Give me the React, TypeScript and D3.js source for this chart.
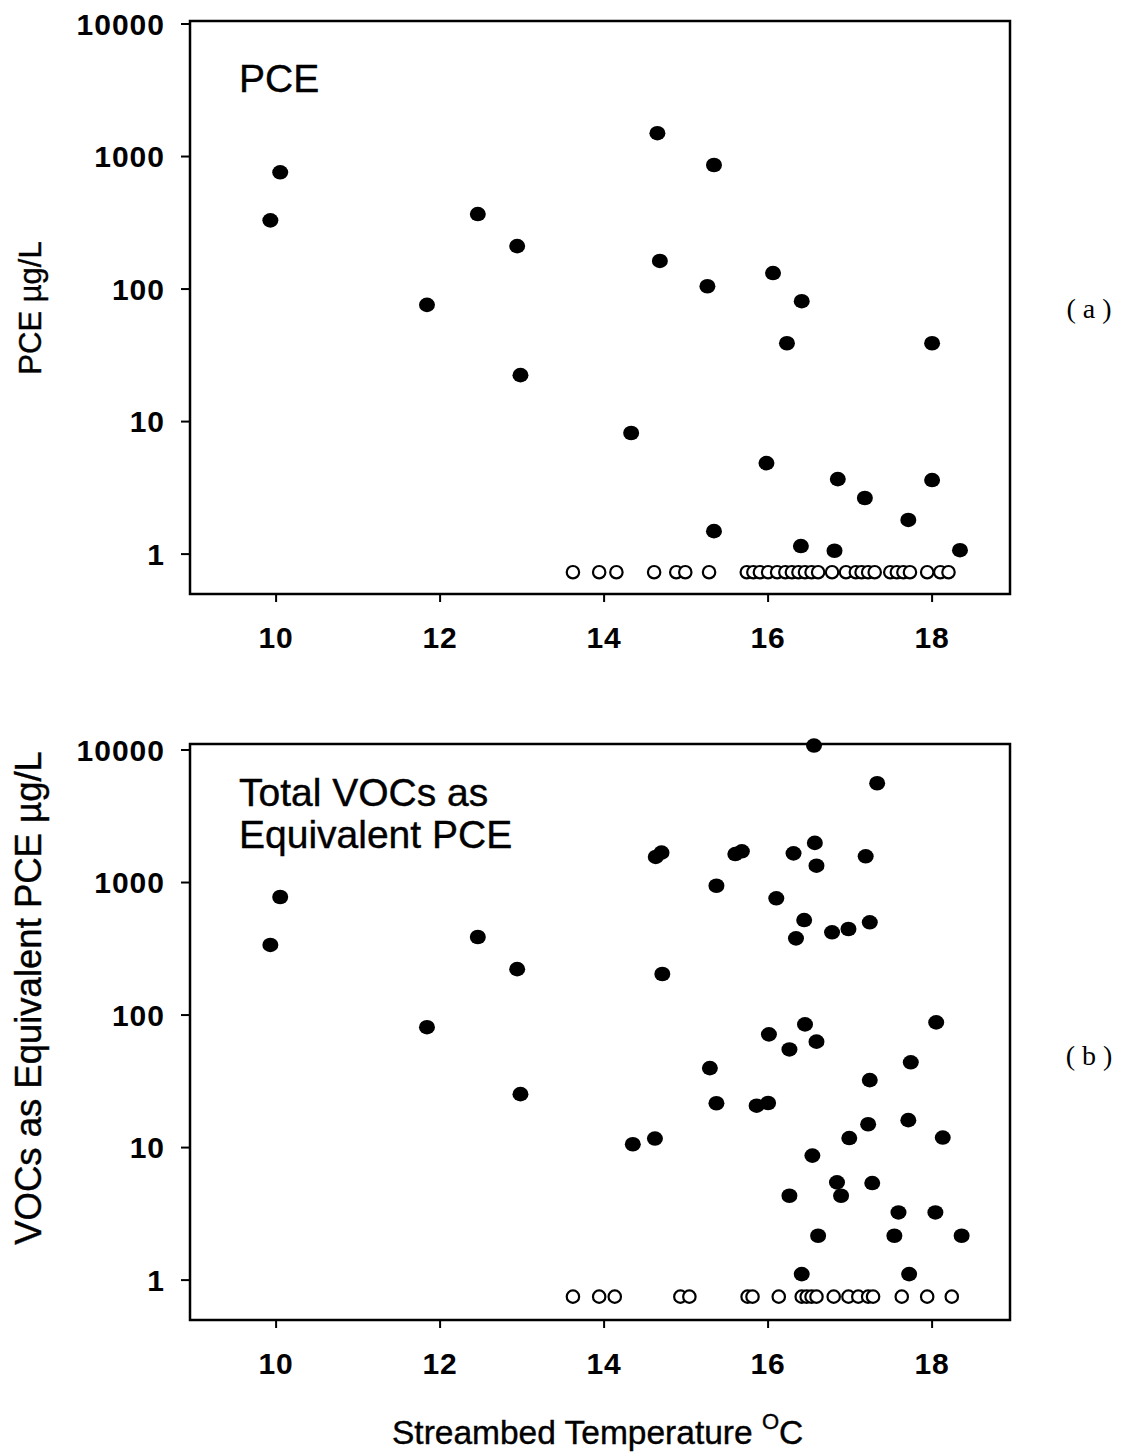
import React from "react";
import * as d3 from "d3";

// Panel (a): PCE detections
const pceTemp = [9.93, 10.05, 11.84, 12.46, 12.94, 12.98, 14.33, 14.65, 14.68, 15.34, 15.34, 15.26, 16.06, 15.98, 16.41, 16.23, 16.4, 16.85, 16.81, 17.18, 17.71, 18.0, 18.0, 18.34];
const pceValue = [330, 760, 76, 368, 211, 22.4, 8.2, 1500, 163, 863, 1.49, 105, 132, 4.86, 81, 39, 1.15, 3.68, 1.06, 2.65, 1.81, 3.62, 39, 1.07];
// Panel (a): non-detects
const pceNDTemp = [13.62, 13.94, 14.15, 14.61, 14.88, 14.99, 15.28, 15.74, 15.82, 15.9, 16.0, 16.11, 16.21, 16.29, 16.37, 16.45, 16.53, 16.61, 16.78, 16.95, 17.07, 17.14, 17.22, 17.3, 17.49, 17.57, 17.65, 17.73, 17.94, 18.1, 18.2];
const pceNDValue = 0.73;

// Panel (b): total VOCs detections
const vocTemp = [9.93, 10.05, 11.84, 12.46, 12.94, 12.98, 16.56, 17.33, 14.63, 14.7, 15.6, 15.68, 16.31, 16.57, 16.59, 17.19, 15.37, 16.1, 16.44, 16.34, 16.78, 16.98, 17.24, 14.71, 18.05, 16.01, 16.45, 16.26, 16.59, 15.29, 17.74, 17.24, 15.37, 15.86, 16.0, 17.22, 17.71, 16.99, 18.13, 14.35, 14.62, 16.54, 16.84, 17.27, 16.26, 16.89, 17.59, 18.04, 16.61, 17.54, 18.36, 16.41, 17.72];
const vocValue = [338, 778, 81, 388, 222, 25.3, 10800, 5610, 1560, 1680, 1640, 1720, 1660, 1990, 1340, 1577, 946, 760, 521, 379, 421, 446, 501, 204, 88, 71.5, 85, 55, 63, 39.8, 44, 32.3, 21.6, 20.7, 21.7, 15.0, 16.1, 11.8, 11.9, 10.6, 11.7, 8.7, 5.46, 5.4, 4.33, 4.33, 3.24, 3.24, 2.16, 2.16, 2.16, 1.11, 1.11];
// Panel (b): non-detects
const vocNDTemp = [13.62, 13.94, 14.13, 14.93, 15.04, 15.75, 15.81, 16.13, 16.41, 16.47, 16.53, 16.59, 16.8, 16.98, 17.1, 17.22, 17.28, 17.63, 17.94, 18.24];
const vocNDValue = 0.75;

const xTicks = [10, 12, 14, 16, 18];
const yTicks = [1, 10, 100, 1000, 10000];

const FONT = "'Liberation Sans', Arial, Helvetica, sans-serif";

type PanelProps = {
  top: number;
  bottom: number;
  yTop: number;
  temps: number[];
  values: number[];
  ndTemps: number[];
  ndValue: number;
  titleLines: string[];
  titleBase: number;
  yLabel: string;
  yLabelSize: number;
  yLabelCenter: number;
  tag: string;
  tagY: number;
};

function Panel(p: PanelProps) {
  const left = 190;
  const right = 1010;
  const x = d3.scaleLinear().domain([8.95, 18.95]).range([left, right]);
  const y = d3.scaleLog().domain([0.5, 10000]).range([p.bottom, p.yTop]);
  return (
    <g>
      <rect x={left} y={p.top} width={right - left} height={p.bottom - p.top} fill="none" stroke="#000" strokeWidth={2.5} />
      {yTicks.map((t) => (
        <g key={"y" + t}>
          <line x1={left - 9} x2={left} y1={y(t)} y2={y(t)} stroke="#000" strokeWidth={2} />
          <text x={165} y={y(t)} dy="0.36em" textAnchor="end" fontFamily={FONT} fontWeight="bold" fontSize={30} letterSpacing={1}>
            {t}
          </text>
        </g>
      ))}
      {xTicks.map((t) => (
        <g key={"x" + t}>
          <line x1={x(t)} x2={x(t)} y1={p.bottom} y2={p.bottom + 8} stroke="#000" strokeWidth={2} />
          <text x={x(t)} y={p.bottom + 54} textAnchor="middle" fontFamily={FONT} fontWeight="bold" fontSize={30} letterSpacing={1}>
            {t}
          </text>
        </g>
      ))}
      {p.temps.map((t, i) => (
        <ellipse key={"f" + i} cx={x(t)} cy={y(p.values[i])} rx={8} ry={7.3} fill="#000" />
      ))}
      {p.ndTemps.map((t, i) => (
        <circle key={"o" + i} cx={x(t)} cy={y(p.ndValue)} r={6.2} fill="#fff" stroke="#000" strokeWidth={2.2} />
      ))}
      {p.titleLines.map((s, i) => (
        <text key={"t" + i} x={239} y={p.top + p.titleBase + i * 42} fontFamily={FONT} fontSize={39} stroke="#000" strokeWidth={0.4}>
          {s}
        </text>
      ))}
      <text
        transform={`translate(41,${p.yLabelCenter}) rotate(-90)`}
        textAnchor="middle"
        fontFamily={FONT}
        fontSize={p.yLabelSize}
        stroke="#000"
        strokeWidth={0.4}
      >
        {p.yLabel}
      </text>
      <text x={1089} y={p.tagY} textAnchor="middle" fontFamily="'Liberation Serif', 'Times New Roman', serif" fontSize={28}>
        {p.tag}
      </text>
    </g>
  );
}

export default function App() {
  return (
    <div style={{ position: "absolute", left: 0, top: 0 }}>
      <svg width={1127} height={1453} viewBox="0 0 1127 1453" style={{ display: "block", background: "#fff" }}>
        <rect x={0} y={0} width={1127} height={1453} fill="#fff" />
        <Panel
          top={21}
          bottom={594}
          yTop={24}
          temps={pceTemp}
          values={pceValue}
          ndTemps={pceNDTemp}
          ndValue={pceNDValue}
          titleLines={["PCE"]}
          titleBase={71}
          yLabel="PCE µg/L"
          yLabelSize={31}
          yLabelCenter={308}
          tag="( a )"
          tagY={318}
        />
        <Panel
          top={744}
          bottom={1320}
          yTop={750}
          temps={vocTemp}
          values={vocValue}
          ndTemps={vocNDTemp}
          ndValue={vocNDValue}
          titleLines={["Total VOCs as", "Equivalent PCE"]}
          titleBase={62}
          yLabel="VOCs as Equivalent PCE µg/L"
          yLabelSize={36.5}
          yLabelCenter={998}
          tag="( b )"
          tagY={1065}
        />
        <text x={392} y={1444} fontFamily={FONT} fontSize={33.5} stroke="#000" strokeWidth={0.4}>
          Streambed Temperature{" "}
          <tspan dy={-15} fontSize={22}>O</tspan>
          <tspan dy={15}>C</tspan>
        </text>
      </svg>
    </div>
  );
}
